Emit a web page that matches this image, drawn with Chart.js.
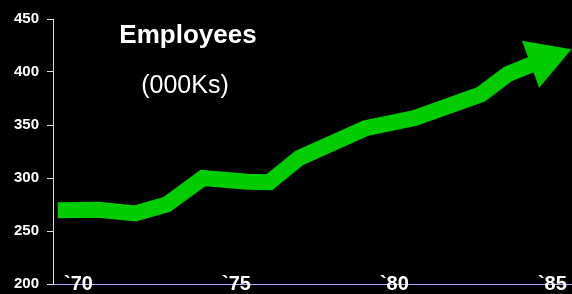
<!DOCTYPE html>
<html>
<head>
<meta charset="utf-8">
<script src="https://cdn.jsdelivr.net/npm/chart.js@4/dist/chart.umd.min.js"></script>
<style>
  html, body { margin: 0; padding: 0; background: #000; }
  #wrap { position: relative; width: 572px; height: 294px; }
  .ttl { position: absolute; color: #fff; font-family: "Liberation Sans", Arial, sans-serif; white-space: nowrap; transform: translateX(-50%); }
  #t1 { left: 188px; top: 19px; font-size: 26px; font-weight: bold; }
  #t2 { left: 185px; top: 70px; font-size: 25px; }
</style>
</head>
<body>
<div id="wrap">
  <canvas id="chart" width="572" height="294"></canvas>
  <div class="ttl" id="t1">Employees</div>
  <div class="ttl" id="t2">(000Ks)</div>
</div>
<script>
// employees (000Ks); last point is the arrow head
const years     = [1969.8, 1971.1, 1972.25, 1973.25, 1974.4, 1975.8, 1976.5, 1977.45, 1979.55, 1981.1, 1983.2, 1984.05, 1985.2];
const employees = [269.5, 270, 266.5, 275, 300, 296.5, 296, 319, 347, 356.5, 379, 398, 412];

const yTicks = [200, 250, 300, 350, 400, 450];
const xTickYears = [1970, 1975, 1980, 1985];
const xTickLabels = ["`70", "`75", "`80", "`85"];

const GREEN = "#00cc00";
const font = "'Liberation Sans', Arial, sans-serif";
const last = years.length - 1;

new Chart(document.getElementById("chart"), {
  type: "line",
  data: {
    datasets: [{
      data: years.map((y, i) => ({ x: y, y: employees[i] })),
      borderColor: GREEN,
      backgroundColor: GREEN,
      borderWidth: 16,
      borderJoinStyle: "miter",
      borderCapStyle: "butt",
      tension: 0,
      clip: false,
      pointStyle: "triangle",
      pointRadius: (c) => (c.dataIndex === last ? 29 : 0),
      pointHoverRadius: (c) => (c.dataIndex === last ? 29 : 0),
      pointRotation: 70,
      pointBorderWidth: 0,
      pointBackgroundColor: GREEN,
    }],
  },
  options: {
    responsive: false,
    animation: false,
    layout: { autoPadding: false, padding: { top: 19, right: 0, left: 0, bottom: 0 } },
    plugins: { legend: { display: false }, tooltip: { enabled: false } },
    scales: {
      x: {
        type: "linear",
        min: 1969.65,
        max: 1986.08,
        afterBuildTicks: (s) => { s.ticks = xTickYears.map((v) => ({ value: v })); },
        afterFit: (s) => { s.height = 10; s.paddingLeft = 0; s.paddingRight = 0; },
        grid: { display: false, drawTicks: false },
        border: { color: "#aaaaff", width: 1 },
        ticks: {
          autoSkip: false, maxRotation: 0, align: "start", mirror: true, padding: -12,
          color: "#fff", font: { family: font, size: 20, weight: "bold" },
          callback: (v) => xTickLabels[xTickYears.indexOf(v)],
        },
      },
      y: {
        min: 200,
        max: 450,
        afterBuildTicks: (s) => { s.ticks = yTicks.map((v) => ({ value: v })); },
        afterFit: (s) => { s.width = 53; s.paddingTop = 0; s.paddingBottom = 0; },
        grid: { drawOnChartArea: false, drawTicks: true, tickLength: 6, color: "#ddd" },
        border: { color: "#ddd", width: 1 },
        ticks: { color: "#fff", padding: 8, font: { family: font, size: 15, weight: "bold" } },
      },
    },
  },
});
</script>
</body>
</html>
